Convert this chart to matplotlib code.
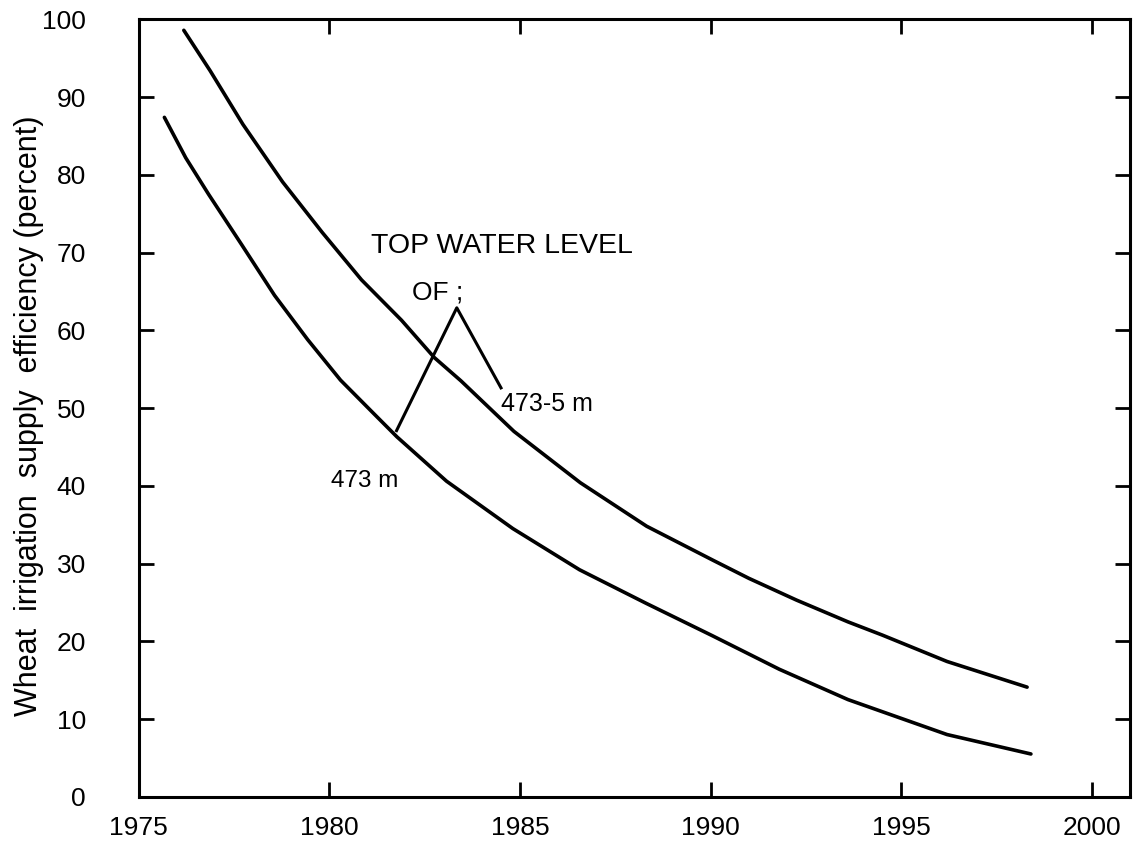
import matplotlib
matplotlib.use("Agg")
import matplotlib.pyplot as plt

# Projected irrigation supply efficiency for two top water levels
years_hi = [1976.18, 1976.87, 1977.73, 1978.77, 1979.81, 1980.84, 1981.89,
            1982.75, 1983.45, 1984.84, 1986.58, 1988.32, 1990.07, 1991.0,
            1992.25, 1993.6, 1994.5, 1996.2, 1998.3]
eff_hi = [98.6, 93.4, 86.5, 79.1, 72.6, 66.5, 61.3, 56.5, 53.5, 47.0, 40.4,
          34.8, 30.4, 28.1, 25.3, 22.5, 20.8, 17.4, 14.1]

years_lo = [1975.67, 1976.23, 1976.83, 1977.70, 1978.56, 1979.43, 1980.29,
            1981.16, 1981.77, 1983.07, 1984.81, 1986.56, 1988.30, 1990.05,
            1991.8, 1993.6, 1996.2, 1998.4]
eff_lo = [87.4, 82.2, 77.5, 71.0, 64.5, 58.8, 53.6, 49.3, 46.3, 40.6, 34.5,
          29.2, 24.9, 20.7, 16.4, 12.5, 8.0, 5.5]

# pointer lines from the "OF ;" label to both curves
pointer_x = [1981.76, 1983.34, 1984.5]
pointer_y = [47.1, 62.9, 52.6]

x_ticks = [1975, 1980, 1985, 1990, 1995, 2000]
y_ticks = list(range(0, 101, 10))

plt.rcParams["font.family"] = ["Liberation Sans", "DejaVu Sans"]

fig = plt.figure(figsize=(11.38, 8.44), dpi=100)
ax = fig.add_axes([0.122, 0.056, 0.871, 0.921])

ax.plot(years_hi, eff_hi, color="black", linewidth=2.6, solid_capstyle="round",
        solid_joinstyle="round")
ax.plot(years_lo, eff_lo, color="black", linewidth=2.6, solid_capstyle="round",
        solid_joinstyle="round")
ax.plot(pointer_x, pointer_y, color="black", linewidth=2.2)

ax.text(1981.1, 70.8, "TOP WATER LEVEL", fontsize=20.5, va="center", ha="left")
ax.text(1982.16, 64.9, "OF ;", fontsize=19, va="center", ha="left")
ax.text(1984.5, 50.5, "473-5 m", fontsize=18, va="center", ha="left")
ax.text(1980.03, 40.6, "473 m", fontsize=17.5, va="center", ha="left")

ax.set_xlim(1975, 2001)
ax.set_ylim(0, 100)
ax.set_xticks(x_ticks)
ax.set_yticks(y_ticks)
ax.tick_params(direction="in", length=11, width=2, labelsize=19,
               top=True, right=True)
ax.tick_params(axis="y", pad=38)
ax.tick_params(axis="x", pad=14)

for side in ax.spines.values():
    side.set_linewidth(2.2)

ax.set_ylabel("Wheat  irrigation  supply  efficiency (percent)", fontsize=22)
ax.yaxis.set_label_coords(-0.096, 0.49)

fig.savefig("out.png", dpi=100)
